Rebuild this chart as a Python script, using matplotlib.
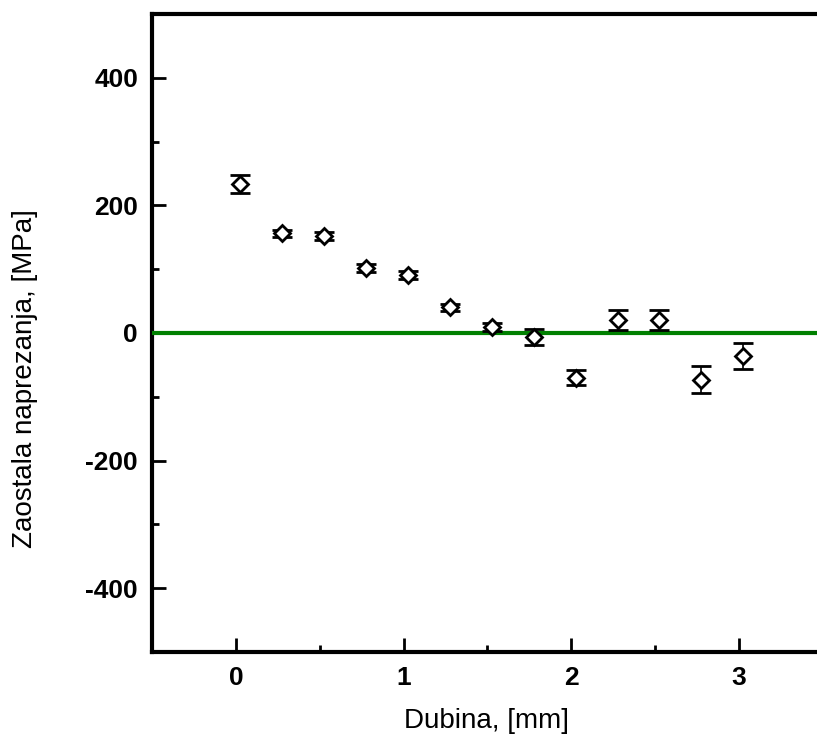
import numpy as np
import matplotlib
matplotlib.use("Agg")
import matplotlib.pyplot as plt
from matplotlib.ticker import MultipleLocator

plt.rcParams['font.family'] = ['Liberation Sans', 'DejaVu Sans']
plt.rcParams['axes.unicode_minus'] = False

# Depth [mm] and residual stress [MPa]
depth = [0.025, 0.275, 0.525, 0.775, 1.025, 1.275, 1.525, 1.775, 2.025, 2.275, 2.525, 2.775, 3.025]
stress = [233, 156, 152, 102, 91, 40, 9, -6, -70, 20, 20, -73, -36]
err = [14, 6, 6, 6, 6, 6, 6, 13, 12, 16, 16, 21, 21]

fig = plt.figure(figsize=(8.17, 7.38), dpi=100)
ax = fig.add_axes([152 / 817, 1 - 652 / 738, 671 / 817, 638 / 738])

# zero line, drawn over the tick at 0
ax.axhline(0, color='#008000', lw=3, zorder=2.6)

ax.errorbar(depth, stress, yerr=err, fmt='D', ms=8.5, mfc='white', mec='black',
            mew=2, ecolor='black', elinewidth=1.2, capsize=7, capthick=1.5, zorder=3)

ax.set_xlim(-0.5, 3.5)
ax.set_ylim(-500, 500)
ax.xaxis.set_major_locator(MultipleLocator(1))
ax.xaxis.set_minor_locator(MultipleLocator(0.5))
ax.yaxis.set_major_locator(MultipleLocator(200))
ax.yaxis.set_minor_locator(MultipleLocator(100))

for s in ax.spines.values():
    s.set_linewidth(3)
ax.spines['right'].set_visible(False)

ax.tick_params(which='both', direction='in', top=False, right=False, width=2)
ax.tick_params(which='major', length=10)
ax.tick_params(which='minor', length=5)
ax.tick_params(axis='y', which='major', pad=10)
ax.tick_params(axis='x', which='major', pad=10)
for lbl in ax.get_xticklabels() + ax.get_yticklabels():
    lbl.set_fontweight('bold')
    lbl.set_fontsize(19)

fig.text(487 / 817, 1 - 721 / 738, 'Dubina, [mm]', ha='center', va='center', fontsize=20)
fig.text(25 / 817, 1 - 379 / 738, 'Zaostala naprezanja, [MPa]', ha='center', va='center',
         rotation=90, fontsize=20)

fig.savefig('out.png', dpi=100)
